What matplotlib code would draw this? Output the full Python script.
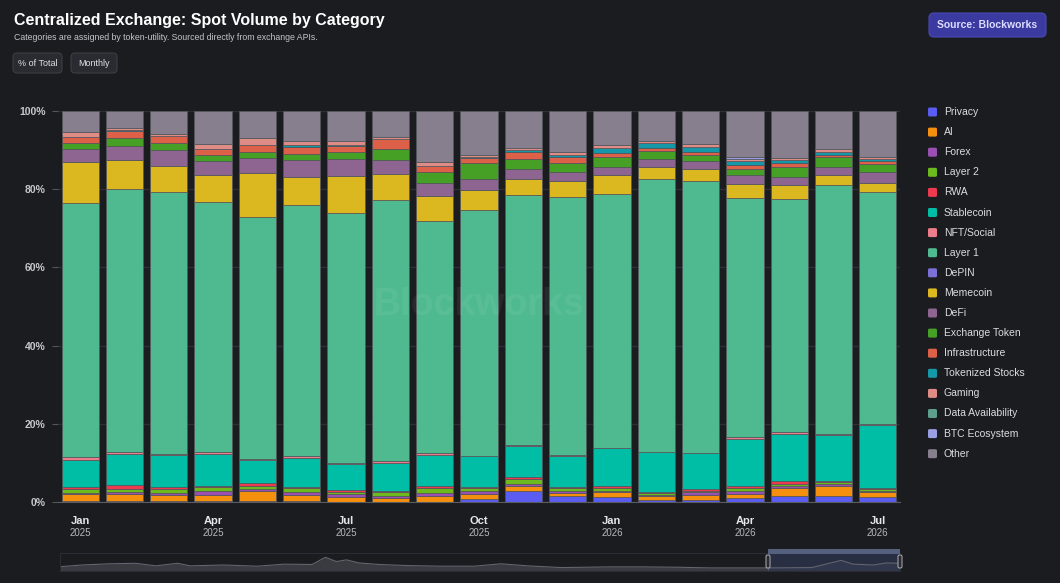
import matplotlib
matplotlib.use("Agg")
import matplotlib.pyplot as plt
import matplotlib.transforms as mtransforms
from matplotlib.patches import FancyBboxPatch, Rectangle
import numpy as np

# months shown on the chart (Jan 2025 .. Jul 2026)
months = ["Jan", "Feb", "Mar", "Apr", "May", "Jun", "Jul", "Aug", "Sep", "Oct",
          "Nov", "Dec", "Jan", "Feb", "Mar", "Apr", "May", "Jun", "Jul"]
years = ["2025"] * 12 + ["2026"] * 7
tick_idx = [0, 3, 6, 9, 12, 15, 18]

# share of spot volume per category, % of total
privacy = [0.2, 0.2, 0.2, 0.2, 0.3, 0.2, 0.1, 0.1, 0.1, 0.8, 2.7, 1.5, 1.4, 0.6, 0.5, 0.9, 1.6, 1.6, 1.2]
ai = [1.8, 1.8, 1.7, 1.7, 2.4, 1.7, 1.3, 0.8, 1.5, 1.2, 1.5, 0.8, 1.1, 0.9, 1.3, 1.1, 2.0, 2.6, 1.3]
forex = [0.4, 0.5, 0.4, 1.0, 0.6, 0.7, 0.6, 0.7, 0.7, 0.9, 0.4, 0.4, 0.3, 0.2, 0.7, 0.9, 0.4, 0.4, 0.3]
layer2 = [0.9, 0.8, 1.0, 0.9, 0.9, 0.9, 0.6, 0.9, 1.2, 0.7, 1.3, 0.8, 0.7, 0.6, 0.4, 0.6, 0.6, 0.4, 0.5]
rwa = [0.6, 1.1, 0.6, 0.4, 0.6, 0.4, 0.5, 0.4, 0.5, 0.3, 0.4, 0.3, 0.5, 0.3, 0.4, 0.5, 0.8, 0.4, 0.3]
stablecoin = [6.9, 7.8, 8.1, 8.0, 6.0, 7.4, 6.5, 7.2, 8.1, 7.8, 8.1, 7.9, 9.7, 10.1, 9.2, 12.2, 12.0, 11.7, 16.0]
nft_social = [0.8, 0.5, 0.4, 0.5, 0.2, 0.5, 0.3, 0.3, 0.4, 0.1, 0.1, 0.2, 0.1, 0.1, 0.1, 0.3, 0.4, 0.2, 0.3]
layer1 = [64.9, 67.3, 67.0, 63.9, 61.8, 64.1, 64.0, 66.9, 59.3, 62.8, 64.0, 66.2, 65.0, 69.9, 69.4, 61.2, 59.7, 63.8, 59.3]
depin = [0] * 19
memecoin = [10.5, 7.5, 6.6, 7.1, 11.3, 7.1, 9.5, 6.5, 6.5, 5.2, 4.2, 3.9, 4.9, 2.9, 3.2, 3.7, 3.6, 2.5, 2.4]
defi = [3.3, 3.6, 4.1, 3.6, 4.0, 4.4, 4.4, 3.7, 3.3, 2.9, 2.5, 2.4, 2.1, 2.2, 1.9, 2.3, 2.1, 2.0, 2.9]
exchange_token = [1.5, 2.1, 1.8, 1.5, 1.5, 1.6, 1.8, 2.8, 2.9, 4.0, 2.5, 2.4, 2.4, 2.0, 1.7, 1.5, 2.6, 2.6, 1.9]
infrastructure = [1.6, 1.7, 1.7, 1.4, 1.7, 1.9, 1.5, 2.5, 1.5, 1.2, 1.7, 1.4, 1.0, 0.7, 0.8, 0.9, 1.0, 0.6, 0.8]
tokenized_stocks = [0, 0.2, 0, 0, 0, 0.3, 0.3, 0, 0, 0.4, 0.5, 0.6, 1.3, 1.3, 1.3, 1.0, 0.7, 0.8, 0.6]
gaming = [1.2, 0.6, 0.5, 1.3, 1.7, 1.1, 0.8, 0.6, 0.9, 0.5, 0.6, 0.6, 0.8, 0.4, 0.6, 0.7, 0.4, 0.6, 0.4]
data_availability = [0] * 19
btc_ecosystem = [0, 0, 0, 0, 0, 0, 0, 0, 0, 0, 0, 0, 0, 0, 0, 0.4, 0, 0, 0]
other = [5.4, 4.3, 5.9, 8.5, 7.0, 7.7, 7.8, 6.6, 13.1, 11.2, 9.5, 10.6, 8.7, 7.8, 8.5, 11.8, 12.1, 9.8, 11.8]

categories = ["Privacy", "AI", "Forex", "Layer 2", "RWA", "Stablecoin", "NFT/Social",
              "Layer 1", "DePIN", "Memecoin", "DeFi", "Exchange Token", "Infrastructure",
              "Tokenized Stocks", "Gaming", "Data Availability", "BTC Ecosystem", "Other"]
series = [privacy, ai, forex, layer2, rwa, stablecoin, nft_social, layer1, depin,
          memecoin, defi, exchange_token, infrastructure, tokenized_stocks, gaming,
          data_availability, btc_ecosystem, other]
colors = ["#5a5cf2", "#f5900e", "#9a4fb2", "#6cba1e", "#ee3a4f", "#00bda5", "#ee7d8b",
          "#4fba90", "#7b6fd8", "#dcb820", "#8e6490", "#46a026", "#dd6149", "#1598a8",
          "#e08c86", "#5e9e8e", "#9a9ee2", "#877f8d"]

# navigator mini chart (relative volume along the timeline)
nav_pos = [0.0, 0.026, 0.058, 0.09, 0.114, 0.140, 0.155, 0.195, 0.235, 0.267, 0.30,
           0.316, 0.329, 0.341, 0.356, 0.38, 0.412, 0.453, 0.493, 0.525, 0.557, 0.597,
           0.654, 0.694, 0.735, 0.775, 0.845, 0.895, 0.93, 0.944, 0.968, 0.984, 1.0]
nav_vals = [0.25, 0.35, 0.42, 0.45, 0.30, 0.45, 0.30, 0.35, 0.28, 0.40, 0.38, 0.80,
            0.55, 0.65, 0.47, 0.38, 0.32, 0.28, 0.28, 0.42, 0.30, 0.20, 0.24, 0.24,
            0.22, 0.18, 0.18, 0.20, 0.62, 0.40, 0.35, 0.47, 0.45]

BG = "#1b1c20"
W, H = 1060, 583

plt.rcParams["font.family"] = ["Liberation Sans", "DejaVu Sans"]

fig = plt.figure(figsize=(W / 100, H / 100), dpi=100, facecolor=BG)
pix = mtransforms.Affine2D().scale(1, -1).translate(0, H)  # top-left pixel coords


def fx(x):
    return x / W


def fy(y):
    return 1 - y / H


ax = fig.add_axes([fx(58), fy(502), fx(900) - fx(58), fy(111) - fy(502)])
ax.set_facecolor(BG)

x = np.arange(len(months))
bottom = np.zeros(len(months))
for name, vals, col in zip(categories, series, colors):
    vals = np.array(vals, dtype=float)
    ax.bar(x, vals, bottom=bottom, width=0.84, color=col, edgecolor="#55565c",
           linewidth=0.5, zorder=3)
    bottom += vals

ax.set_xlim(-0.5, len(months) - 0.5)
ax.set_ylim(0, 100)
ax.set_yticks([0, 20, 40, 60, 80, 100])
ax.set_yticklabels([f"{v}%" for v in [0, 20, 40, 60, 80, 100]])
ax.tick_params(axis="y", colors="#55565c", labelcolor="#c8c8cc", length=4, pad=5,
               labelsize=7.5)
for lbl in ax.get_yticklabels():
    lbl.set_fontweight("bold")
ax.set_xticks([])
ax.grid(axis="y", color="#2e2f35", linewidth=1, zorder=0)
for s in ["top", "right", "left"]:
    ax.spines[s].set_visible(False)
ax.spines["bottom"].set_color("#5a5b60")
ax.spines["bottom"].set_zorder(4)

tr = mtransforms.blended_transform_factory(ax.transData, fig.transFigure)
for i in tick_idx:
    ax.text(i, fy(521), months[i], transform=tr, ha="center", va="center",
            color="#e6e6e8", fontsize=8, fontweight="bold")
    ax.text(i, fy(533), years[i], transform=tr, ha="center", va="center",
            color="#b8b8bc", fontsize=7)

# watermark
ax.text(0.5, 0.505, "Blockworks", transform=ax.transAxes, ha="center", va="center",
        fontsize=27, fontweight="bold", color="white", alpha=0.06, zorder=5)

# title block
fig.text(fx(14), fy(20), "Centralized Exchange: Spot Volume by Category", color="white",
         fontsize=11.5, fontweight="bold", va="center")
fig.text(fx(14), fy(38), "Categories are assigned by token-utility. Sourced directly from exchange APIs.",
         color="#c4c4c8", fontsize=6.3, va="center")

for (x0, x1, label) in [(13, 62, "% of Total"), (71, 117, "Monthly")]:
    fig.add_artist(FancyBboxPatch((x0, 53), x1 - x0, 20, boxstyle="round,pad=0,rounding_size=4",
                                  transform=pix, facecolor="#2a2b30", edgecolor="#3d3e44",
                                  linewidth=0.8))
    fig.text(fx((x0 + x1) / 2), fy(63), label, color="#e0e0e4", fontsize=6.5,
             ha="center", va="center")

fig.add_artist(FancyBboxPatch((929, 13), 117, 24, boxstyle="round,pad=0,rounding_size=5",
                              transform=pix, facecolor="#3a3aa0", edgecolor="#4a4ab8",
                              linewidth=0.8))
fig.text(fx(987.5), fy(25), "Source: Blockworks", color="#dcdcff", fontsize=7.5,
         fontweight="bold", ha="center", va="center")

# legend
for i, (name, col) in enumerate(zip(categories, colors)):
    yc = 112 + i * 20.1
    fig.add_artist(FancyBboxPatch((928, yc - 4.5), 9, 9, boxstyle="round,pad=0,rounding_size=1.5",
                                  transform=pix, facecolor=col, edgecolor="none"))
    fig.text(fx(944), fy(yc), name, color="#dcdcdf", fontsize=7.5, va="center")

# navigator
nav = fig.add_axes([fx(60), fy(571), fx(900) - fx(60), fy(553) - fy(571)])
nav.set_facecolor(BG)
nav.fill_between(nav_pos, nav_vals, 0, color="#3a3b41", linewidth=0)
nav.plot(nav_pos, nav_vals, color="#62646e", linewidth=0.8)
sel0 = (768 - 60) / 840
nav.add_patch(Rectangle((sel0, 0), 1 - sel0, 1.05, facecolor="#2e3650", alpha=0.75,
                        edgecolor="#55607e", linewidth=0.6))
nav.set_xlim(0, 1)
nav.set_ylim(0, 1.05)
nav.set_xticks([])
nav.set_yticks([])
for s in nav.spines.values():
    s.set_color("#2c2d33")
fig.add_artist(Rectangle((768, 549), 132, 5, transform=pix, facecolor="#55607e",
                         edgecolor="none"))
for hx in (768, 900):
    fig.add_artist(FancyBboxPatch((hx - 2, 555), 4, 13, boxstyle="round,pad=0,rounding_size=1.5",
                                  transform=pix, facecolor="#2a2b30", edgecolor="#b0b0b8",
                                  linewidth=0.7))

fig.savefig("out.png", dpi=100, facecolor=BG)
